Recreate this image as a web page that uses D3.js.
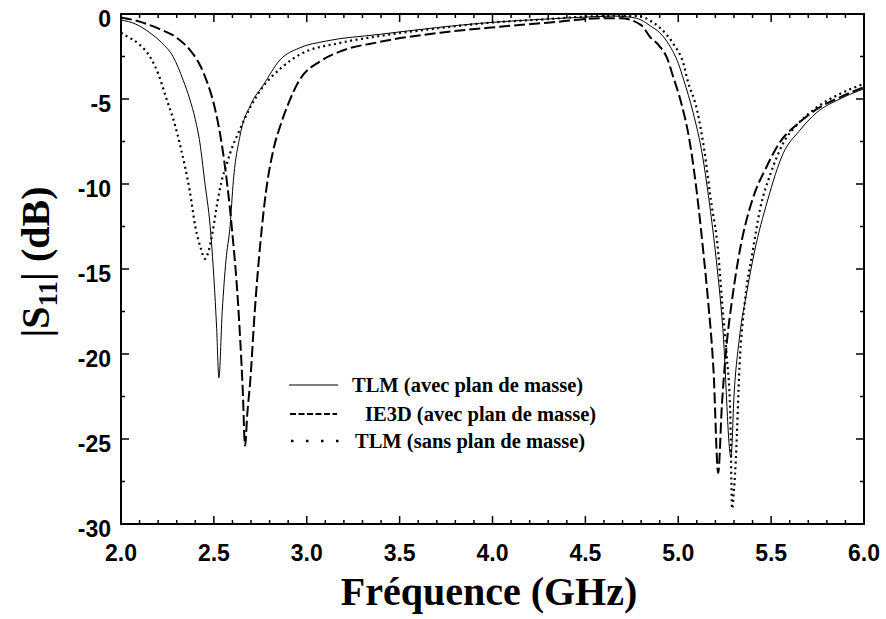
<!DOCTYPE html>
<html><head><meta charset="utf-8">
<script src="https://cdn.jsdelivr.net/npm/d3@7"></script>
<style>body{margin:0;background:#fff}svg{display:block}</style>
</head><body><svg id="c" width="886" height="619"></svg>
<script>
// ---- data ----
const xTicks = [2.0, 2.5, 3.0, 3.5, 4.0, 4.5, 5.0, 5.5, 6.0];
const yTicks = [0, -5, -10, -15, -20, -25, -30];
const seriesNames = ["TLM (avec plan de masse)", "IE3D (avec plan de masse)", "TLM (sans plan de masse)"];

const tlmAvecF = [2.0,2.08,2.155,2.22,2.28,2.335,2.37,2.4,2.425,2.45,2.48,2.5,2.515,2.527,2.545,2.565,2.587,2.605,2.64,2.7,2.765,2.856,2.96,3.1,3.39,3.7,3.93,4.2,4.47,4.65,4.75,4.8,4.85,4.9,4.95,5.0,5.03,5.08,5.13,5.165,5.2,5.24,5.284,5.30,5.33,5.37,5.41,5.48,5.565,5.65,5.745,5.87,6.0];
const tlmAvecS = [-0.35,-0.6,-1.1,-1.7,-2.5,-3.9,-5.0,-6.2,-7.6,-9.8,-12.5,-15.5,-18.5,-21.4,-17.5,-14.5,-12.5,-9.8,-7.2,-5.3,-4.2,-2.7,-2.0,-1.6,-1.2,-0.8,-0.55,-0.35,-0.2,-0.12,-0.2,-0.35,-0.7,-1.1,-1.8,-2.9,-3.9,-5.8,-8.3,-10.9,-14,-18.5,-26.1,-22.5,-19,-16.3,-14,-11,-8.2,-6.9,-5.8,-5.0,-4.4];

const ie3dF = [2.0,2.1,2.2,2.3,2.37,2.425,2.46,2.5,2.55,2.596,2.63,2.655,2.668,2.68,2.695,2.72,2.75,2.78,2.82,2.86,2.9,2.96,3.07,3.18,3.39,3.72,4.04,4.36,4.58,4.69,4.8,4.848,4.9,4.94,4.97,5.02,5.06,5.10,5.135,5.16,5.19,5.215,5.235,5.26,5.29,5.33,5.40,5.475,5.55,5.65,5.745,5.87,6.0];
const ie3dS = [-0.2,-0.45,-0.85,-1.4,-2.1,-3.0,-3.9,-5.3,-8.2,-12.5,-17,-22,-25.4,-23.5,-21.7,-17.5,-13.5,-10.5,-8.0,-6.5,-5.3,-3.9,-2.8,-2.2,-1.65,-1.1,-0.75,-0.45,-0.25,-0.25,-0.65,-1.35,-1.9,-2.6,-3.6,-5.4,-7.4,-10.5,-14,-16.8,-21,-27,-23,-19.5,-16.8,-14,-10.9,-9,-7.5,-6.4,-5.6,-4.9,-4.3];

const tlmSansF = [2.0,2.03,2.1,2.155,2.2,2.245,2.29,2.32,2.37,2.40,2.43,2.452,2.47,2.495,2.52,2.54,2.57,2.587,2.64,2.70,2.75,2.87,2.96,3.18,3.39,3.7,4.0,4.3,4.5,4.7,4.8,4.85,4.9,4.97,5.03,5.05,5.1,5.14,5.175,5.215,5.235,5.26,5.28,5.29,5.3,5.31,5.33,5.36,5.40,5.44,5.5,5.565,5.65,5.745,5.87,6.0];
const tlmSansS = [-1.1,-1.3,-1.8,-2.5,-3.5,-5.0,-6.5,-7.8,-10.4,-12.5,-13.8,-14.4,-14.0,-12.7,-11.0,-9.9,-8.8,-8.2,-6.8,-5.4,-4.5,-3.1,-2.4,-1.7,-1.3,-0.85,-0.5,-0.3,-0.15,-0.1,-0.15,-0.4,-0.8,-1.7,-3.0,-3.9,-5.6,-8,-10.9,-14,-16.8,-20,-23.5,-29.1,-28,-26.2,-20.7,-16.8,-14,-11.5,-9.3,-7.6,-6.4,-5.5,-4.7,-4.1];

// ---- layout ----
const svg = d3.select("#c");
const L = 121, R = 864, T = 14, B = 524;
const x = d3.scaleLinear().domain([2, 6]).range([L, R]);
const y = d3.scaleLinear().domain([0, -30]).range([T, B]);

const tickFont = "'Liberation Sans', Arial, sans-serif";
const serif = "'Liberation Serif', 'Times New Roman', serif";

// frame
svg.append("rect").attr("x", L).attr("y", T).attr("width", R - L).attr("height", B - T)
  .attr("fill", "none").attr("stroke", "#000").attr("stroke-width", 2);

// ticks (inward, all four sides)
const xMinor = d3.range(20, 61).map(d => d / 10);
const yMinor = d3.range(0, 13).map(d => -d * 2.5);
const g = svg.append("g").attr("stroke", "#000").attr("stroke-width", 1.5);
xMinor.forEach(v => {
  const major = Math.abs(v * 2 - Math.round(v * 2)) < 1e-6;
  const len = major ? 8 : 4;
  g.append("line").attr("x1", x(v)).attr("x2", x(v)).attr("y1", B).attr("y2", B - len);
  g.append("line").attr("x1", x(v)).attr("x2", x(v)).attr("y1", T).attr("y2", T + len);
});
yMinor.forEach(v => {
  const major = Math.abs(v / 5 - Math.round(v / 5)) < 1e-6;
  const len = major ? 8 : 4;
  g.append("line").attr("y1", y(v)).attr("y2", y(v)).attr("x1", L).attr("x2", L + len);
  g.append("line").attr("y1", y(v)).attr("y2", y(v)).attr("x1", R).attr("x2", R - len);
});

// tick labels
svg.append("g").selectAll("text").data(xTicks).join("text")
  .attr("x", d => x(d)).attr("y", 561).attr("text-anchor", "middle")
  .attr("font-family", tickFont).attr("font-weight", "bold").attr("font-size", 23)
  .text(d => d.toFixed(1));
svg.append("g").selectAll("text").data(yTicks).join("text")
  .attr("x", 111).attr("y", d => y(d) + 13).attr("text-anchor", "end")
  .attr("font-family", tickFont).attr("font-weight", "bold").attr("font-size", 23)
  .text(d => d);

// axis titles
svg.append("text").attr("x", 489).attr("y", 605).attr("text-anchor", "middle")
  .attr("font-family", serif).attr("font-weight", "bold").attr("font-size", 40)
  .text("Fréquence (GHz)");
const yl = svg.append("text").attr("transform", "translate(49,262) rotate(-90)")
  .attr("text-anchor", "middle").attr("font-family", serif).attr("font-weight", "bold").attr("font-size", 40);
yl.append("tspan").text("|S");
yl.append("tspan").attr("font-size", 27).attr("dy", 8).text("11");
yl.append("tspan").attr("dy", -8).text("| (dB)");

// curves
const line = d3.line().x(d => x(d[0])).y(d => y(d[1])).curve(d3.curveMonotoneX);
const series = [
  {f: tlmAvecF, s: tlmAvecS, w: 1, dash: null},
  {f: ie3dF, s: ie3dS, w: 2, dash: "11,4"},
  {f: tlmSansF, s: tlmSansS, w: 2.2, dash: "2,3.5"}
];
svg.append("clipPath").attr("id", "pc").append("rect")
  .attr("x", L).attr("y", T - 2).attr("width", R - L).attr("height", B - T + 2);
series.forEach(sr => {
  const pts = sr.f.map((f, i) => [f, sr.s[i]]);
  svg.append("path").attr("d", line(pts)).attr("fill", "none").attr("stroke", "#000")
    .attr("stroke-width", sr.w).attr("stroke-dasharray", sr.dash)
    .attr("clip-path", "url(#pc)");
});

// legend
const lg = svg.append("g");
const rows = [
  {y: 385, dash: null, w: 1.2, x1: 289, x2: 338, tx: 352},
  {y: 414, dash: "6,2.5", w: 2, x1: 290, x2: 337, tx: 365},
  {y: 441, dash: "2.5,12.5", w: 2.5, x1: 291, x2: 340, tx: 355}
];
rows.forEach((r, i) => {
  lg.append("line").attr("x1", r.x1).attr("x2", r.x2).attr("y1", r.y).attr("y2", r.y)
    .attr("stroke", "#000").attr("stroke-width", r.w).attr("stroke-dasharray", r.dash);
  lg.append("text").attr("x", r.tx).attr("y", r.y + 7).attr("font-family", serif)
    .attr("font-weight", "bold").attr("font-size", 20.5).text(seriesNames[i]);
});
</script></body></html>
